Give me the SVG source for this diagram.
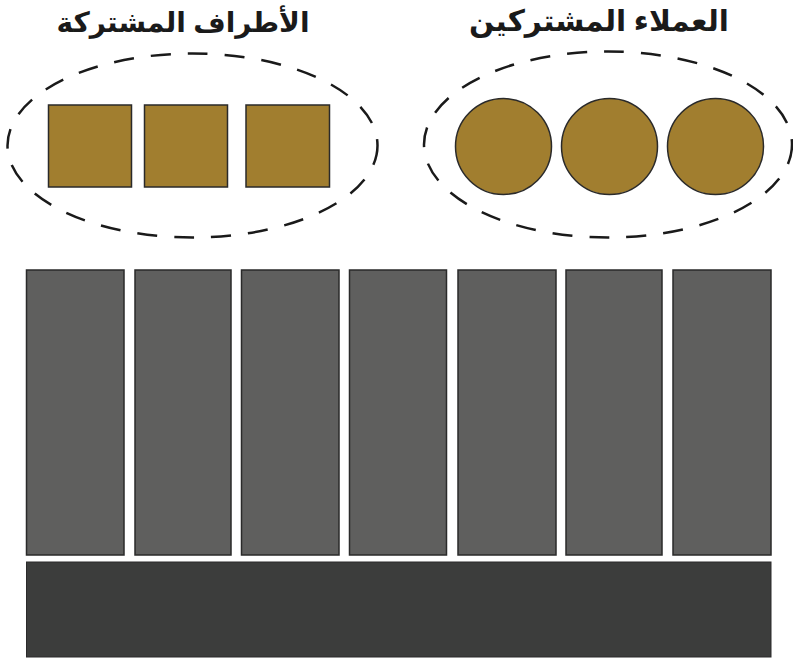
<svg xmlns="http://www.w3.org/2000/svg" width="793" height="660" viewBox="0 0 793 660">
<style>
.title{font-family:"Noto Sans","DejaVu Sans",sans-serif;font-weight:bold;font-size:28px;fill:#1a1a1a;text-anchor:middle}
.group{fill:none;stroke:#1a1a1a;stroke-width:2.5;stroke-dasharray:20 17}
.gold{fill:#A17E2F;stroke:#2a2a2a;stroke-width:1.5}
.bar{fill:#5F5F5E;stroke:#2a2a2a;stroke-width:1.5}
.base{fill:#3C3D3C;stroke:#2a2a2a;stroke-width:1}
</style>
<rect width="793" height="660" fill="#ffffff"/>
<g id="shared-parties">
<text class="title" x="183" y="32" direction="rtl">الأطراف المشتركة</text>
<ellipse class="group" cx="192.5" cy="145.5" rx="185" ry="92"/>
<rect class="gold" x="48.5" y="105" width="83" height="82"/>
<rect class="gold" x="144.5" y="105" width="83" height="82"/>
<rect class="gold" x="246" y="105" width="83.5" height="82"/>
</g>
<g id="shared-clients">
<text class="title" x="599" y="31" direction="rtl" style="font-size:29.5px">العملاء المشتركين</text>
<ellipse class="group" cx="608" cy="144.5" rx="184" ry="93"/>
<circle class="gold" cx="503.5" cy="146.5" r="48"/>
<circle class="gold" cx="609.5" cy="146.5" r="48"/>
<circle class="gold" cx="715.5" cy="146.5" r="48"/>
</g>
<g id="pillars">
<rect class="bar" x="26.5" y="270" width="97.5" height="285"/>
<rect class="bar" x="135" y="270" width="96" height="285"/>
<rect class="bar" x="241.5" y="270" width="97.5" height="285"/>
<rect class="bar" x="349.5" y="270" width="97" height="285"/>
<rect class="bar" x="458" y="270" width="98" height="285"/>
<rect class="bar" x="566" y="270" width="96" height="285"/>
<rect class="bar" x="673" y="270" width="98" height="285"/>
</g>
<g id="foundation">
<rect class="base" x="26.5" y="562" width="744.5" height="95"/>
</g>
<g id="connectors"></g>
</svg>
